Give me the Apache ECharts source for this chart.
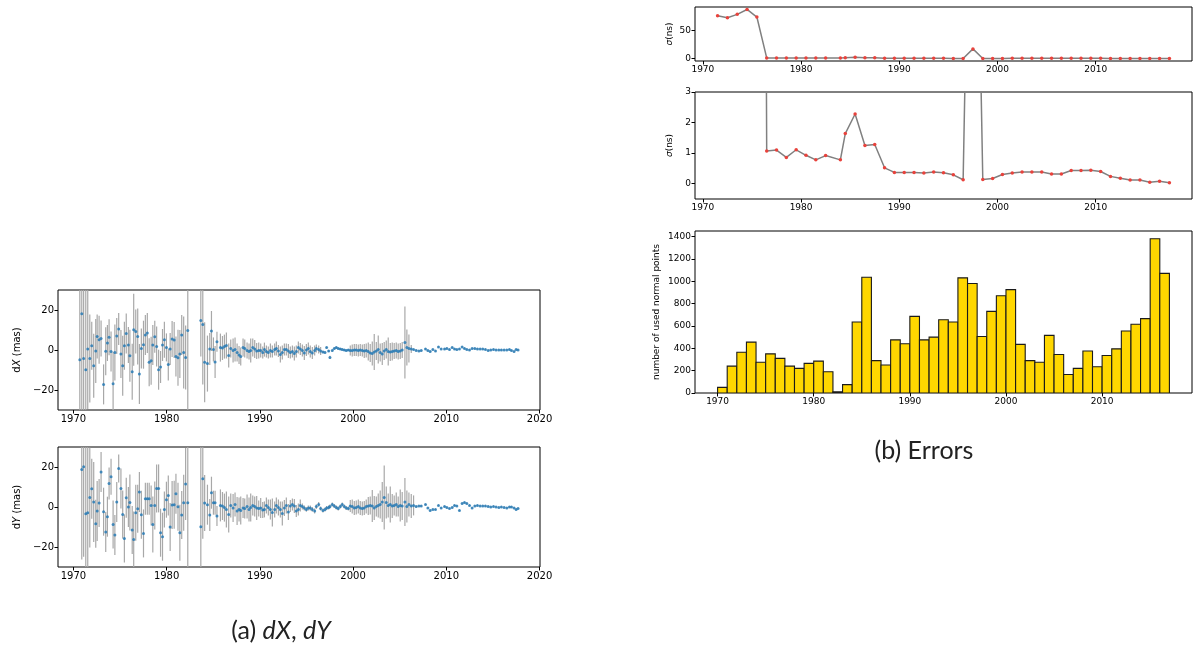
<!DOCTYPE html>
<html>
<head>
<meta charset="utf-8">
<script src="https://cdn.jsdelivr.net/npm/echarts@6/dist/echarts.min.js"></script>
<style>
  html, body { margin: 0; padding: 0; background: #fff; }
  #chart { width: 1194px; height: 648px; }
</style>
</head>
<body>
<div id="chart"></div>
<script>
// ---- (a) dX, dY : epochs before 1985.5 ----
const earlyEpochs = [
  1970.69, 1970.9, 1971.1, 1971.33, 1971.54, 1971.76, 1971.97, 1972.18, 1972.4, 1972.55,
  1972.76, 1972.97, 1973.24, 1973.47, 1973.65, 1973.83, 1974.04, 1974.26, 1974.45, 1974.65,
  1974.86, 1975.1, 1975.29, 1975.47, 1975.67, 1975.9, 1976.06, 1976.31, 1976.47, 1976.69,
  1976.9, 1977.08, 1977.29, 1977.52, 1977.72, 1977.93, 1978.13, 1978.34, 1978.52, 1978.73,
  1978.93, 1979.14, 1979.35, 1979.56, 1979.76, 1979.98, 1980.18, 1980.38, 1980.59, 1980.81,
  1981.0, 1981.22, 1981.42, 1981.62, 1981.83, 1982.04, 1982.27, 1983.67, 1983.88, 1984.08,
  1984.38, 1984.63, 1984.81, 1985.02, 1985.2, 1985.4
];
const earlyDX = [
  -4.85, 18.15, -4.2, -9.85, 0.5, -4.2, 2.1, -7.85, -0.5, 6.8,
  5.15, 5.8, -17.2, -0.65, 3.5, 6.35, -0.8, -16.85, -1.2, 7.0,
  10.5, -2.0, -7.85, 2.1, 8.3, 2.5, -2.85, -10.85, 10.15, 9.3,
  6.8, -12.0, 0.8, 2.65, 7.45, 8.5, -6.1, -5.35, 2.5, 6.65,
  1.8, -9.85, -8.5, 2.5, 5.15, 1.3, -7.2, 0.5, 5.5, 5.0,
  -3.2, -3.85, -2.0, 7.5, -1.2, -3.7, 9.8, 14.8, 12.8, -6.1,
  -6.8, 0.5, 9.5, 0.3, -6.0, 4.15
];
const earlyDXErr = [
  45, 50, 45, 40, 30, 22, 12, 16, 16, 11,
  12, 9, 10, 12, 9, 9, 10, 16, 14, 9,
  8, 12, 15, 12, 10, 9, 13, 14, 18, 11,
  14, 15, 10, 12, 10, 10, 12, 12, 10, 8,
  10, 10, 8, 8, 9, 7, 8, 8, 9, 9,
  10, 14, 12, 10, 18, 16, 60, 18, 30, 20,
  14, 8, 10, 6, 8, 5
];
const earlyDY = [
  null, 18.8, 20.15, -3.35, -2.85, 4.8, 9.15, 2.5, -8.35, -2.0,
  2.0, 17.5, -2.35, -12.5, -4.85, 11.8, 15.15, -8.7, -14.0, 2.5,
  19.3, 9.3, -3.7, -15.7, 4.65, 0.0, 2.3, -11.5, -16.2, -2.85,
  -0.85, 7.5, -3.85, -13.2, 4.15, 4.15, 4.15, 0.8, -8.7, 0.8,
  9.3, 9.3, -12.85, -14.85, -1.2, 3.65, 5.8, -10.0, 1.0, 1.15,
  6.65, 0.15, -12.85, -4.0, 2.15, 11.5, 2.15, -9.85, 14.15, 2.0,
  1.15, -4.0, 7.15, 2.15, 2.15, -4.5
];
const earlyDYErr = [
  45, 45, 45, 45, 35, 25, 15, 20, 12, 15,
  12, 10, 12, 10, 10, 8, 9, 12, 10, 10,
  7, 10, 12, 12, 10, 10, 14, 12, 14, 14,
  12, 10, 12, 12, 8, 8, 8, 10, 14, 12,
  12, 12, 12, 12, 9, 9, 10, 12, 12, 12,
  10, 12, 14, 12, 14, 18, 60, 45, 30, 14,
  10, 8, 8, 6, 6, 5
];

// ---- (a) dX, dY : epochs from 1985.5 on ----
const denseEpochs = [
  1985.77, 1985.99, 1986.2, 1986.41, 1986.66, 1986.88, 1987.13, 1987.34, 1987.56, 1987.77,
  1987.95, 1988.2, 1988.38, 1988.63, 1988.84, 1989.02, 1989.24, 1989.45, 1989.66, 1989.88,
  1990.09, 1990.31, 1990.49, 1990.7, 1990.91, 1991.13, 1991.34, 1991.59, 1991.77, 1991.99,
  1992.2, 1992.41, 1992.63, 1992.84, 1993.06, 1993.27, 1993.49, 1993.7, 1993.91, 1994.13,
  1994.34, 1994.56, 1994.77, 1994.99, 1995.2, 1995.41, 1995.63, 1995.88, 1996.06, 1996.31,
  1996.52, 1996.77, 1996.99, 1997.16, 1997.38, 1997.52, 1997.77, 1997.99, 1998.2, 1998.41,
  1998.63, 1998.84, 1999.06, 1999.27, 1999.49, 1999.7, 1999.91, 2000.13, 2000.34, 2000.56,
  2000.77, 2000.99, 2001.2, 2001.41, 2001.63, 2001.84, 2002.06, 2002.27, 2002.49, 2002.7,
  2002.91, 2003.13, 2003.34, 2003.56, 2003.77, 2003.99, 2004.2, 2004.41, 2004.63, 2004.84,
  2005.06, 2005.27, 2005.56, 2005.77, 2005.99, 2006.24, 2006.49, 2006.77, 2007.06, 2007.31,
  2007.77, 2008.02, 2008.27, 2008.56, 2008.84, 2009.16, 2009.45, 2009.81, 2010.06, 2010.34,
  2010.63, 2010.88, 2011.13, 2011.41, 2011.7, 2011.95, 2012.2, 2012.49, 2012.77, 2013.06,
  2013.34, 2013.63, 2013.91, 2014.2, 2014.49, 2014.77, 2015.06, 2015.34, 2015.63, 2015.91,
  2016.2, 2016.49, 2016.77, 2016.99, 2017.27, 2017.49, 2017.7
];
const denseDX = [
  1.2, 1.0, 1.7, 2.2, -2.8, 0.8, -0.3, 0.2, -1.2, -2.5,
  -3.2, 1.3, 0.8, -0.3, -0.8, -0.3, 1.2, 0.5, -0.5, -0.2,
  -0.3, -1.2, 0.2, -0.7, -1.2, -0.3, -0.8, 0.2, 0.8, -0.5,
  -2.2, -1.2, 0.2, 0.2, -0.5, -1.2, -0.8, -1.8, -0.7, 1.2,
  0.5, -0.3, -1.5, 0.0, 0.8, -0.8, -1.5, -0.3, 0.8, 0.2,
  -0.5, -1.0, -1.2, 1.2, -0.5, -3.7, -0.3, 0.8, 1.3, 0.8,
  0.5, 0.2, 0.0, -0.3, 0.0, -0.2, -0.2, 0.0, 0.0, -0.2,
  0.0, -0.3, -0.5, -0.3, -0.8, -1.5, -1.8, -1.0, -0.5, 0.2,
  -1.2, -2.0, -0.5, 0.2, -0.7, -1.0, -0.8, -0.5, -0.3, -0.8,
  -0.5, 0.0, 3.8, 1.2, 0.8, 0.5, 0.2, -0.2, -0.5, -0.3,
  0.5, -0.3, -0.8, 0.2, -0.5, 1.5, 0.5, 0.5, 0.8, 0.2,
  1.2, 0.5, 0.2, 0.5, 1.5, 0.8, 0.3, 0.0, 0.7, 0.7,
  0.5, 0.5, 0.5, 0.3, -0.2, 0.0, 0.2, 0.0, 0.0, 0.0,
  0.0, 0.0, 0.2, -0.3, -0.8, 0.2, 0.0
];
const denseDXErr = [
  7, 6, 6, 6.5, 6, 4.5, 6, 6, 4.5, 4.5,
  4.5, 4.5, 4.5, 4, 4, 6, 4.5, 4.5, 4, 4,
  3.5, 3, 3.5, 3, 3, 3.5, 3, 3, 3.5, 3,
  4, 3.5, 3, 3, 3.5, 3, 3, 3.5, 3, 3,
  3, 3, 3.5, 3, 3, 3, 3, 2.5, 2, 2,
  2, 0.6, 0.6, 0.5, 0.5, 0.8, 0.5, 0.5, 0.5, 0.5,
  0.5, 0.5, 0.5, 0.5, 0.5, 2.5, 3, 3, 3, 3,
  3, 3, 3.5, 3.5, 4.5, 4.5, 6, 9, 4.5, 7,
  4.5, 5.5, 4.5, 4.5, 7, 4.5, 4.5, 4, 4, 4,
  4, 4, 18, 9, 7, 2, 0.4, 0.4, 0.4, 0.4,
  0.4, 0.4, 0.4, 0.4, 0.4, 0.4, 0.4, 0.4, 0.4, 0.4,
  0.4, 0.4, 0.4, 0.4, 0.4, 0.4, 0.4, 0.4, 0.4, 0.4,
  0.4, 0.4, 0.4, 0.4, 0.4, 0.4, 0.4, 0.4, 0.4, 0.4,
  0.4, 0.4, 0.4, 0.4, 0.4, 0.4, 0.4
];
const denseDY = [
  0.8, 0.5, -0.3, -1.2, -3.7, 0.8, -0.5, 1.3, -2.0, -1.2,
  -1.7, -0.5, -0.8, 0.2, -1.2, -0.3, 0.8, 0.2, -0.5, -0.8,
  -0.5, -1.5, -1.2, 0.8, -0.3, -1.2, -2.8, -1.2, 0.8, -0.3,
  -1.2, -3.2, -0.5, 0.8, -2.5, 0.5, 1.3, 0.5, -2.0, -1.2,
  0.8, 0.2, -0.5, -1.2, -0.5, -0.5, -1.2, -2.0, 0.2, 1.3,
  -0.8, -1.8, -1.2, -0.5, -0.3, 0.2, 1.2, 0.5, -0.3, -0.8,
  0.2, 1.3, 0.2, -0.5, -0.8, 0.5, 0.2, -0.5, -0.3, 0.2,
  -0.5, -0.8, -0.5, 0.2, 0.5, 0.8, 0.5, -0.5, 0.2, 0.8,
  1.2, 2.5, 4.7, 2.2, 0.8, 1.3, 0.5, 0.8, 1.2, 0.2,
  0.8, 0.5, 2.5, 0.2, 1.2, 0.5, 0.8, 0.2, 0.5, 0.5,
  1.2, -0.5, -1.7, -1.2, -1.2, 0.8, -0.5, 0.2, -0.3, -0.8,
  -0.3, 0.8, 0.5, -1.7, 1.8, 2.2, 1.8, 0.8, -0.5, 0.5,
  0.8, 0.5, 0.5, 0.5, 0.3, 0.0, 0.3, 0.0, -0.2, 0.0,
  -0.2, -0.5, 0.0, 0.0, -0.5, -1.2, -0.7
];
const denseDYErr = [
  8, 7, 7, 9, 9, 6, 7, 6, 7, 6,
  7, 5, 5, 6, 6, 7, 5, 5, 6, 4,
  5, 4, 4, 4, 4, 5, 7, 4, 4, 4,
  4, 6, 4, 4, 4, 3, 3, 3.5, 3, 3,
  3, 1.5, 1.2, 1.2, 1.2, 1.2, 1.2, 1.2, 1.2, 1.2,
  1, 1, 1, 1, 1, 1, 1, 1, 1, 1,
  1, 1, 1, 1, 1, 3, 3.5, 3.5, 3.5, 3.5,
  3.5, 3.5, 3.5, 3.5, 4.5, 4.5, 8, 6, 5, 6,
  7, 10, 16, 8, 6, 9, 6, 5, 6, 5,
  8, 7, 12, 8, 6, 6, 5, 0.4, 0.4, 0.4,
  0.4, 0.4, 0.4, 0.4, 0.4, 0.4, 0.4, 0.4, 0.4, 0.4,
  0.4, 0.4, 0.4, 0.4, 0.4, 0.4, 0.4, 0.4, 0.4, 0.4,
  0.4, 0.4, 0.4, 0.4, 0.4, 0.4, 0.4, 0.4, 0.4, 0.4,
  0.4, 0.4, 0.4, 0.4, 0.4, 0.4, 0.4
];

// ---- (b) Errors ----
const sigmaYears = [
  1971.5, 1972.5, 1973.5, 1974.5, 1975.5, 1976.5, 1977.5, 1978.5, 1979.5, 1980.5,
  1981.5, 1982.5, 1984.0, 1984.5, 1985.5, 1986.5, 1987.5, 1988.5, 1989.5, 1990.5,
  1991.5, 1992.5, 1993.5, 1994.5, 1995.5, 1996.5, 1997.5, 1998.5, 1999.5, 2000.5,
  2001.5, 2002.5, 2003.5, 2004.5, 2005.5, 2006.5, 2007.5, 2008.5, 2009.5, 2010.5,
  2011.5, 2012.5, 2013.5, 2014.5, 2015.5, 2016.5, 2017.5
];
const sigmaNs = [
  76.8, 73.2, 79.2, 88.0, 74.4, 1.07, 1.1, 0.86, 1.11, 0.93,
  0.78, 0.92, 0.78, 1.64, 2.28, 1.25, 1.28, 0.52, 0.37, 0.37,
  0.37, 0.35, 0.38, 0.36, 0.29, 0.13, 17.3, 0.14, 0.17, 0.3,
  0.35, 0.38, 0.38, 0.38, 0.32, 0.32, 0.43, 0.43, 0.44, 0.4,
  0.24, 0.18, 0.12, 0.12, 0.05, 0.08, 0.03
];
const histYears = [
  1970, 1971, 1972, 1973, 1974, 1975, 1976, 1977, 1978, 1979,
  1980, 1981, 1982, 1983, 1984, 1985, 1986, 1987, 1988, 1989,
  1990, 1991, 1992, 1993, 1994, 1995, 1996, 1997, 1998, 1999,
  2000, 2001, 2002, 2003, 2004, 2005, 2006, 2007, 2008, 2009,
  2010, 2011, 2012, 2013, 2014, 2015, 2016
];
const histCounts = [
  50, 240, 365, 455, 275, 350, 310, 240, 220, 265,
  285, 190, 10, 75, 635, 1035, 290, 250, 475, 440,
  685, 475, 500, 655, 635, 1030, 980, 505, 730, 870,
  925, 435, 290, 275, 515, 345, 165, 220, 375, 235,
  335, 395, 555, 615, 665, 1380, 1070
];

// tick labels
const yearTicksA = [1970, 1980, 1990, 2000, 2010, 2020];
const yearTicksB = [1970, 1980, 1990, 2000, 2010];
const masTicks = [-20, 0, 20];
const sigmaTopTicks = [0, 50];
const sigmaMidTicks = [0, 1, 2, 3];
const histTicks = [0, 200, 400, 600, 800, 1000, 1200, 1400];

const FONT = "DejaVu Sans";
const plain = (v) => String(v).replace("-", "\u2212");

function join(t, v, e) {
  const out = [];
  t.forEach((x, i) => {
    if (v[i] !== null) out.push([x, v[i], e[i]]);
  });
  return out;
}
const dxRows = join(earlyEpochs, earlyDX, earlyDXErr).concat(join(denseEpochs, denseDX, denseDXErr));
const dyRows = join(earlyEpochs, earlyDY, earlyDYErr).concat(join(denseEpochs, denseDY, denseDYErr));

function errorBar(params, api) {
  const t = api.value(0);
  const v = api.value(1);
  const e = api.value(2);
  const hi = Math.min(v + e, 30);
  const lo = Math.max(v - e, -30);
  const p1 = api.coord([t, hi]);
  const p2 = api.coord([t, lo]);
  return {
    type: "line",
    shape: { x1: p1[0], y1: p1[1], x2: p2[0], y2: p2[1] },
    style: { stroke: "#a8a8a8", lineWidth: 1.2 },
  };
}

function histBar(params, api) {
  const y = api.value(0);
  const c = api.value(1);
  const p1 = api.coord([y, c]);
  const p2 = api.coord([y + 1, 0]);
  return {
    type: "rect",
    shape: { x: p1[0], y: p1[1], width: p2[0] - p1[0], height: p2[1] - p1[1] },
    style: { fill: "#ffd700", stroke: "#1a1a1a", lineWidth: 1.1 },
  };
}

function xAxis(grid, min, max, ticks, size) {
  return {
    type: "value", gridIndex: grid, min: min, max: max,
    axisLine: { show: false, onZero: false },
    splitLine: { show: false },
    axisTick: { show: true, length: 3.5, customValues: ticks, lineStyle: { color: "#000" } },
    axisLabel: { customValues: ticks, color: "#000", fontSize: size, fontFamily: FONT, margin: 4, formatter: plain },
  };
}
function yAxis(grid, min, max, ticks, size, name, gap, rich) {
  return {
    type: "value", gridIndex: grid, min: min, max: max,
    name: name, nameLocation: "middle", nameRotate: 90, nameGap: gap,
    nameTextStyle: { color: "#000", fontSize: size, fontFamily: FONT, rich: rich },
    axisLine: { show: false, onZero: false },
    splitLine: { show: false },
    axisTick: { show: true, length: 3.5, customValues: ticks, lineStyle: { color: "#000" } },
    axisLabel: { customValues: ticks, color: "#000", fontSize: size, fontFamily: FONT, margin: 4, formatter: plain },
  };
}

const gridStyle = { show: true, borderColor: "#000", borderWidth: 1, backgroundColor: "transparent" };
const italic = (size) => ({ i: { fontStyle: "italic", fontSize: size, fontFamily: FONT, color: "#000" } });

const chart = echarts.init(document.getElementById("chart"), null, { renderer: "canvas" });

chart.setOption({
  animation: false,
  grid: [
    Object.assign({ left: 695, top: 7, width: 497, height: 54 }, gridStyle),
    Object.assign({ left: 695, top: 92, width: 497, height: 107 }, gridStyle),
    Object.assign({ left: 695, top: 231, width: 497, height: 162 }, gridStyle),
    Object.assign({ left: 58, top: 290, width: 482, height: 120 }, gridStyle),
    Object.assign({ left: 58, top: 447, width: 482, height: 120 }, gridStyle),
  ],
  xAxis: [
    xAxis(0, 1969.2, 2019.8, yearTicksB, 9),
    xAxis(1, 1969.2, 2019.8, yearTicksB, 9),
    xAxis(2, 1967.65, 2019.35, yearTicksB, 9),
    xAxis(3, 1968.35, 2020.05, yearTicksA, 10),
    xAxis(4, 1968.35, 2020.05, yearTicksA, 10),
  ],
  yAxis: [
    yAxis(0, -4.4, 92.4, sigmaTopTicks, 9, "{i|\u03c3}(ns)", 21, italic(9)),
    yAxis(1, -0.5, 3, sigmaMidTicks, 9, "{i|\u03c3}(ns)", 21, italic(9)),
    yAxis(2, 0, 1449, histTicks, 9, "number of used normal points", 34, null),
    yAxis(3, -30, 30, masTicks, 10, "d{i|X} (mas)", 36, italic(10)),
    yAxis(4, -30, 30, masTicks, 10, "d{i|Y} (mas)", 36, italic(10)),
  ],
  series: [
    {
      type: "line", xAxisIndex: 0, yAxisIndex: 0,
      data: sigmaYears.map((y, i) => [y, sigmaNs[i]]),
      showAllSymbol: true, symbol: "circle", symbolSize: 3.5, clip: true,
      lineStyle: { color: "#808080", width: 1.5 },
      itemStyle: { color: "#e8423c", borderWidth: 0 },
    },
    {
      type: "line", xAxisIndex: 1, yAxisIndex: 1,
      data: sigmaYears.map((y, i) => [y, sigmaNs[i]]),
      showAllSymbol: true, symbol: "circle", symbolSize: 3.5, clip: true,
      lineStyle: { color: "#808080", width: 1.5 },
      itemStyle: { color: "#e8423c", borderWidth: 0 },
    },
    {
      type: "custom", xAxisIndex: 2, yAxisIndex: 2,
      data: histYears.map((y, i) => [y, histCounts[i]]),
      renderItem: histBar, clip: true,
    },
    {
      type: "custom", xAxisIndex: 3, yAxisIndex: 3,
      data: dxRows, renderItem: errorBar, clip: true, z: 1,
    },
    {
      type: "scatter", xAxisIndex: 3, yAxisIndex: 3,
      data: dxRows.map((r) => [r[0], r[1]]),
      symbol: "circle", symbolSize: 3, itemStyle: { color: "#1f77b4" }, z: 3,
    },
    {
      type: "custom", xAxisIndex: 4, yAxisIndex: 4,
      data: dyRows, renderItem: errorBar, clip: true, z: 1,
    },
    {
      type: "scatter", xAxisIndex: 4, yAxisIndex: 4,
      data: dyRows.map((r) => [r[0], r[1]]),
      symbol: "circle", symbolSize: 3, itemStyle: { color: "#1f77b4" }, z: 3,
    },
  ],
  graphic: [
    {
      type: "text", x: 281, y: 631,
      style: {
        text: "(a) {i|dX}, {i|dY}",
        x: 0, y: 0, align: "center", verticalAlign: "middle",
        fontFamily: "Lato", fontSize: 25, fill: "#222",
        rich: { i: { fontStyle: "italic", fontFamily: "Lato", fontSize: 25, fill: "#222" } },
      },
    },
    {
      type: "text", x: 924, y: 451,
      style: {
        text: "(b) Errors", x: 0, y: 0, align: "center", verticalAlign: "middle",
        fontFamily: "Lato", fontSize: 25, fill: "#222",
      },
    },
  ],
});
</script>
</body>
</html>
